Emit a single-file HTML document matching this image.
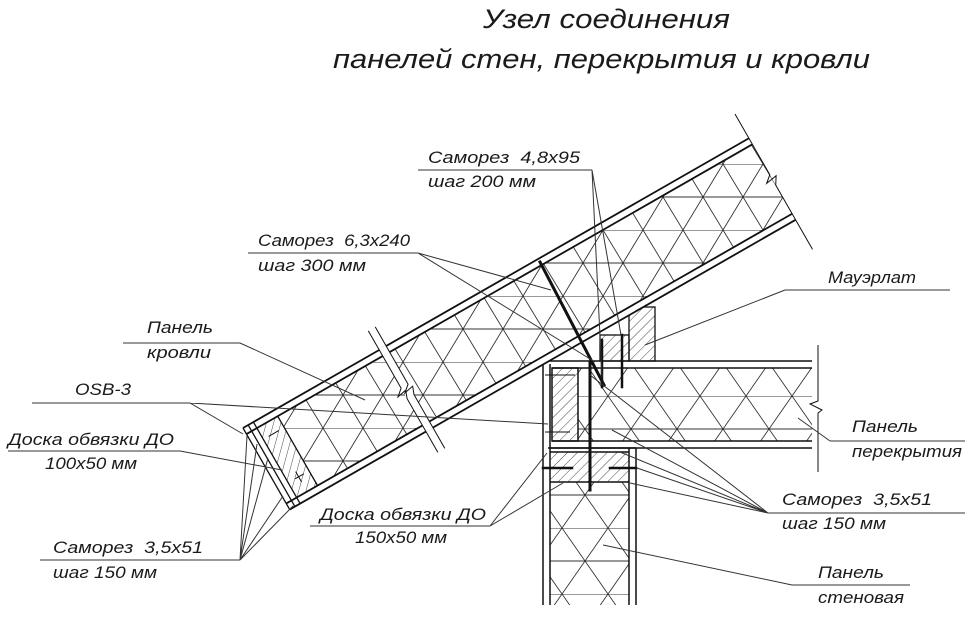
<!DOCTYPE html>
<html><head><meta charset="utf-8"><style>
html,body{margin:0;padding:0;background:#fff}
svg{display:block}
text{font-family:"Liberation Sans",sans-serif;font-style:italic;fill:#1a1a1a}
</style></head><body>
<svg width="970" height="632" viewBox="0 0 970 632" xmlns="http://www.w3.org/2000/svg">
<defs>
<pattern id="h" width="7" height="7" patternUnits="userSpaceOnUse" patternTransform="rotate(45)">
<line x1="0" y1="0" x2="0" y2="7" stroke="#333" stroke-width="0.9"/></pattern>
<pattern id="ins" width="46" height="66" patternUnits="userSpaceOnUse" x="10" y="0">
<path d="M0 0L46 66M46 0L0 66M0 0H46M0 33H46" stroke="#333" stroke-width="0.9" fill="none"/></pattern>
<pattern id="insR" width="40" height="66" patternUnits="userSpaceOnUse" patternTransform="rotate(29.8)">
<path d="M0 0L40 66M40 0L0 66M0 0H40M0 33H40" stroke="#333" stroke-width="0.9" fill="none"/></pattern>
</defs>

<text x="483" y="28" font-size="27" textLength="247" lengthAdjust="spacingAndGlyphs">Узел соединения</text>
<text x="333" y="68" font-size="27" textLength="537" lengthAdjust="spacingAndGlyphs">панелей стен, перекрытия и кровли</text>

<g stroke="#111" fill="none">
<rect x="550" y="482" width="79" height="123" fill="url(#ins)" stroke="none"/>
<rect x="550" y="452" width="79" height="30" fill="url(#h)" stroke="none"/>
<path d="M550 452H629M550 482H629M550 448H636" stroke-width="1.5"/>
<path d="M543 364V605M550 364V605M629 448V605M636 448V605" stroke-width="1.5"/>
<rect x="578" y="368" width="234" height="73" fill="url(#ins)" stroke="none"/>
<rect x="552" y="368" width="26" height="73" fill="url(#h)" stroke="#111" stroke-width="1.5"/>
<path d="M548 361H812M552 368H812M552 441H812M548 448H812" stroke-width="1.6"/>
<path d="M818 345V401L810 404L822 410L818 413V472" stroke-width="1"/>
<path d="M545 375H575M545 432H570" stroke-width="1"/>
<rect x="629" y="307" width="26" height="54" fill="url(#h)" stroke-width="1.3"/>
<rect x="600" y="335" width="29" height="26" fill="url(#h)" stroke-width="1.3"/>
</g>

<g transform="translate(243,428) rotate(-29.8)" stroke="#111" fill="none">
<rect x="0" y="0" width="583" height="94" fill="#fff" stroke="none"/>
<rect x="36" y="7" width="547" height="80" fill="url(#insR)" stroke="none"/>
<rect x="12" y="7" width="24" height="80" fill="url(#h)" stroke="none"/>
<path d="M0 0H583M0 7H583M0 87H583M0 94H583" stroke-width="1.8"/>
<path d="M0 0V94M6 0V94M12 0V94M36 7V87" stroke-width="1.3"/>
<path d="M18 20H30M20 70H30M24 64V76" stroke-width="1"/>
<rect x="157" y="-1" width="8" height="96" fill="#fff" stroke="none"/>
<path d="M157 -22V44L150 50L160 48L157 56V118M165 -22V44L158 50L168 48L165 56V118" stroke-width="1"/>
<path d="M583 -28V42L576 48L588 46L583 54V128" stroke-width="1"/>
</g>

<g stroke="#111" stroke-linecap="square">
<line x1="540" y1="262" x2="604" y2="385" stroke-width="3"/>
<line x1="602" y1="340" x2="602" y2="387" stroke-width="2.5"/>
<line x1="622" y1="335" x2="622" y2="387" stroke-width="2.5"/>
<line x1="590" y1="362" x2="590" y2="490" stroke-width="3"/>
<line x1="543" y1="468" x2="572" y2="468" stroke-width="2.5"/>
<line x1="610" y1="468" x2="636" y2="468" stroke-width="2.5"/>
</g>

<g stroke="#333" stroke-width="1" fill="none">
<path d="M418 170H592M592 170L602 378M592 170L621 335"/>
<path d="M248 253H418M418 253L551 290M418 253L595 362"/>
<path d="M785 290H950M785 290L645 345"/>
<path d="M123 343H240L365 400"/>
<path d="M32 403H190L243 434M190 403L548 424"/>
<path d="M8 451H180L282 470"/>
<path d="M40 560H240M240 560L247 436M240 560L257 444M240 560L268 458M240 560L283 496M240 560L293 506"/>
<path d="M310 526H490M490 526L547 453M490 526L563 483"/>
<path d="M768 513H965M768 513L637 468M768 513L620 452M768 513L630 483M768 513L612 430M768 513L590 375"/>
<path d="M830 441H965M830 441L798 418"/>
<path d="M792 585H910M792 585L603 545"/>
</g>

<g font-size="17">
<text x="428" y="163" textLength="152" lengthAdjust="spacingAndGlyphs">Саморез&#160;&#160;4,8x95</text>
<text x="428" y="187" textLength="108" lengthAdjust="spacingAndGlyphs">шаг 200 мм</text>
<text x="258" y="246" textLength="152" lengthAdjust="spacingAndGlyphs">Саморез&#160;&#160;6,3x240</text>
<text x="258" y="271" textLength="108" lengthAdjust="spacingAndGlyphs">шаг 300 мм</text>
<text x="828" y="283" textLength="88" lengthAdjust="spacingAndGlyphs">Мауэрлат</text>
<text x="147" y="333" textLength="66" lengthAdjust="spacingAndGlyphs">Панель</text>
<text x="147" y="358" textLength="64" lengthAdjust="spacingAndGlyphs">кровли</text>
<text x="75" y="395" textLength="56" lengthAdjust="spacingAndGlyphs">OSB-3</text>
<text x="8" y="445" textLength="166" lengthAdjust="spacingAndGlyphs">Доска обвязки ДО</text>
<text x="45" y="469" textLength="92" lengthAdjust="spacingAndGlyphs">100x50 мм</text>
<text x="53" y="553" textLength="150" lengthAdjust="spacingAndGlyphs">Саморез&#160;&#160;3,5x51</text>
<text x="53" y="578" textLength="104" lengthAdjust="spacingAndGlyphs">шаг 150 мм</text>
<text x="320" y="520" textLength="166" lengthAdjust="spacingAndGlyphs">Доска обвязки ДО</text>
<text x="355" y="543" textLength="92" lengthAdjust="spacingAndGlyphs">150x50 мм</text>
<text x="782" y="505" textLength="150" lengthAdjust="spacingAndGlyphs">Саморез&#160;&#160;3,5x51</text>
<text x="782" y="529" textLength="104" lengthAdjust="spacingAndGlyphs">шаг 150 мм</text>
<text x="852" y="432" textLength="66" lengthAdjust="spacingAndGlyphs">Панель</text>
<text x="852" y="457" textLength="110" lengthAdjust="spacingAndGlyphs">перекрытия</text>
<text x="818" y="578" textLength="66" lengthAdjust="spacingAndGlyphs">Панель</text>
<text x="818" y="603" textLength="86" lengthAdjust="spacingAndGlyphs">стеновая</text>
</g>
</svg>
</body></html>
